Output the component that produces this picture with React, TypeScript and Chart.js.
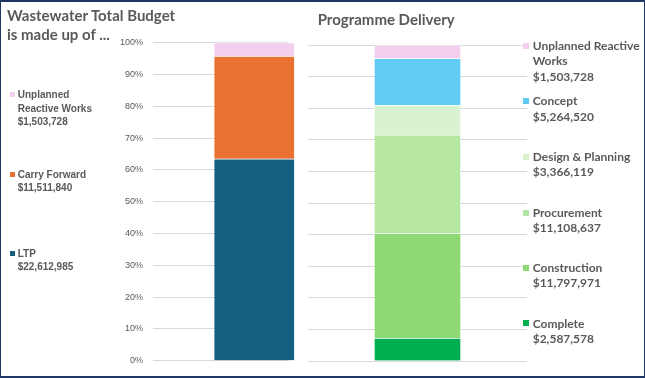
import React, { useEffect, useRef } from 'react';
import { Chart, registerables } from 'chart.js';

Chart.register(...registerables);

// ---------- data ----------
const budgetSeries = ['LTP', 'Carry Forward', 'Unplanned Reactive Works'];
const budgetValues = [22612985, 11511840, 1503728];
const budgetColors = ['#156082', '#E97132', '#F2CEEF'];

const deliverySeries = ['Complete', 'Construction', 'Procurement', 'Design & Planning', 'Concept', 'Unplanned Reactive Works'];
const deliveryValues = [2587578, 11797971, 11108637, 3366119, 5264520, 1503728];
const deliveryColors = ['#00B050', '#8ED973', '#B5E6A2', '#D9F2D0', '#61CBF3', '#F2CEEF'];

const percentTickLabels = ['0%', '10%', '20%', '30%', '40%', '50%', '60%', '70%', '80%', '90%', '100%'];

const budgetTitle = ['Wastewater Total Budget', 'is made up of ...'];
const deliveryTitle = 'Programme Delivery';

// ---------- helpers ----------
const sum = (a: number[]) => a.reduce((s, v) => s + v, 0);
const money = (v: number) => '$' + v.toLocaleString('en-US');
const TEXT = '#595959';
const GRID = '#D9D9D9';
const SEG_BORDER = 'rgba(255,255,255,0.4)';

function BudgetChart() {
  const ref = useRef<HTMLCanvasElement | null>(null);
  useEffect(() => {
    const total = sum(budgetValues);
    const chart = new Chart(ref.current!, {
      type: 'bar',
      data: {
        labels: ['', budgetTitle[0]],
        datasets: budgetSeries.map((s, i) => ({
          label: s,
          data: [null, (budgetValues[i] / total) * 100],
          backgroundColor: budgetColors[i],
          borderColor: SEG_BORDER,
          borderWidth: 1,
          barThickness: 81,
          clip: false as any,
        })),
      },
      options: {
        responsive: false,
        animation: false,
        layout: { padding: { left: 0, right: 12, top: 42.7, bottom: 17.3 } },
        plugins: { legend: { display: false }, tooltip: { enabled: false }, title: { display: false } },
        scales: {
          x: { stacked: true, display: false },
          y: {
            stacked: true,
            min: 0,
            max: 100,
            afterFit: (s: any) => { s.width = 153; },
            border: { display: false },
            grid: { color: GRID, lineWidth: 1, drawTicks: false },
            ticks: {
              stepSize: 10,
              padding: 10,
              color: TEXT,
              font: { family: '"Liberation Sans", Arial, sans-serif', size: 9 },
              callback: (v: any) => percentTickLabels[Math.round(Number(v) / 10)],
            },
          },
        },
      },
    });
    return () => chart.destroy();
  }, []);
  return <canvas ref={ref} width={300} height={378} style={{ position: 'absolute', left: 0, top: 0, width: 300, height: 378 }} />;
}

function DeliveryChart() {
  const ref = useRef<HTMLCanvasElement | null>(null);
  useEffect(() => {
    const total = sum(deliveryValues);
    const chart = new Chart(ref.current!, {
      type: 'bar',
      data: {
        labels: [deliveryTitle],
        datasets: deliverySeries.map((s, i) => ({
          label: s,
          data: [(deliveryValues[i] / total) * 100],
          backgroundColor: deliveryColors[i],
          borderColor: SEG_BORDER,
          borderWidth: 1,
          barThickness: 87,
        })),
      },
      options: {
        responsive: false,
        animation: false,
        layout: { padding: { left: 8, right: 118, top: 45, bottom: 17 } },
        plugins: { legend: { display: false }, tooltip: { enabled: false }, title: { display: false } },
        scales: {
          x: { stacked: true, display: false },
          y: {
            stacked: true,
            min: 0,
            max: 100,
            afterFit: (s: any) => { s.width = 0; },
            border: { display: false },
            grid: { color: GRID, lineWidth: 1, drawTicks: false },
            ticks: { stepSize: 10, display: false },
          },
        },
      },
    });
    return () => chart.destroy();
  }, []);
  return <canvas ref={ref} width={345} height={378} style={{ position: 'absolute', left: 300, top: 0, width: 345, height: 378 }} />;
}

const leftFont = '"Liberation Sans", Arial, sans-serif';
const rightFont = 'Lato, "Open Sans", sans-serif';

// layout positions (top of each legend entry) in the same order as the series
const budgetLegendTops = [246.7, 167.7, 88.3];
const deliveryLegendTops = [315.6, 260, 205, 149, 93.3, 38];

export default function App() {
  return (
    <div style={{ position: 'fixed', left: 0, top: 0, width: 645, height: 378, background: '#fff', overflow: 'hidden' }}>
      <BudgetChart />
      <DeliveryChart />

      <div style={{ position: 'absolute', left: 7, top: 6, fontFamily: rightFont, fontWeight: 700, fontSize: 15, lineHeight: '19.3px', color: TEXT, whiteSpace: 'nowrap' }}>
        {budgetTitle[0]}<br />{budgetTitle[1]}
      </div>
      <div style={{ position: 'absolute', left: 317.7, top: 10.3, fontFamily: rightFont, fontWeight: 700, fontSize: 15, lineHeight: '19.3px', color: TEXT, whiteSpace: 'nowrap' }}>
        {deliveryTitle}
      </div>

      {budgetSeries.map((s, i) => (
        <div key={s} style={{ position: 'absolute', left: 0, top: budgetLegendTops[i], width: 110 }}>
          <div style={{ position: 'absolute', left: 10, top: 4, width: 5, height: 5, background: budgetColors[i] }} />
          <div style={{ position: 'absolute', left: 17.7, top: 0, width: 82, fontFamily: leftFont, fontWeight: 700, fontSize: 10, lineHeight: '13.3px', color: TEXT }}>
            {s}<br />{money(budgetValues[i])}
          </div>
        </div>
      ))}

      {deliverySeries.map((s, i) => (
        <div key={s} style={{ position: 'absolute', left: 520, top: deliveryLegendTops[i], width: 125 }}>
          <div style={{ position: 'absolute', left: 3, top: 4.5, width: 6, height: 6, background: deliveryColors[i] }} />
          <div style={{ position: 'absolute', left: 12.7, top: 0, width: 110, fontFamily: rightFont, fontWeight: 700, fontSize: 12, lineHeight: '15.4px', color: TEXT }}>
            {s}<br />{money(deliveryValues[i])}
          </div>
        </div>
      ))}

      <div style={{ position: 'absolute', inset: 0, boxSizing: 'border-box', borderStyle: 'solid', borderColor: '#1F3864', borderWidth: '2px 1px 2px 1px', pointerEvents: 'none' }} />
    </div>
  );
}
